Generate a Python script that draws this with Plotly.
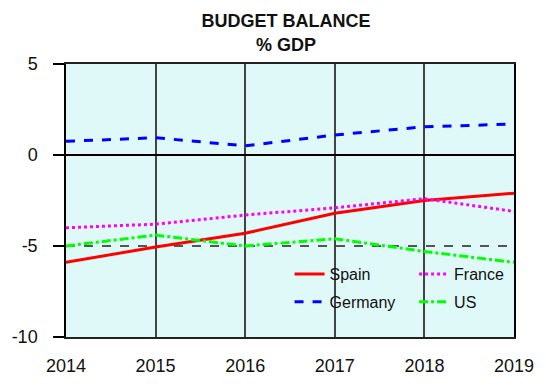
import plotly.graph_objects as go

# Budget balance, % of GDP
years = [2014, 2015, 2016, 2017, 2018, 2019]
spain = [-5.9, -5.05, -4.3, -3.2, -2.5, -2.1]
germany = [0.75, 0.95, 0.5, 1.1, 1.55, 1.7]
france = [-4.0, -3.8, -3.3, -2.9, -2.4, -3.1]
us = [-5.0, -4.4, -5.0, -4.6, -5.3, -5.9]

y_ticks = [-10, -5, 0, 5]
y_tick_labels = ["-10", "-5", "0", "5"]
x_tick_labels = ["2014", "2015", "2016", "2017", "2018", "2019"]

FONT = "Liberation Sans, Arial, sans-serif"

series = [
    ("Spain", spain, "#FF0000", "solid", "legend"),
    ("Germany", germany, "#0000FF", "dash", "legend2"),
    ("France", france, "#FF00FF", "dot", "legend3"),
    ("US", us, "#00FF00", "dashdot", "legend4"),
]

fig = go.Figure()
for name, vals, color, dash, leg in series:
    fig.add_trace(go.Scatter(
        x=years, y=vals, name=name, mode="lines",
        line=dict(color=color, width=3, dash=dash),
        legend=leg, showlegend=True,
    ))

legend_common = dict(
    bgcolor="rgba(0,0,0,0)", borderwidth=0,
    font=dict(family=FONT, size=16, color="#111"),
    xanchor="left", yanchor="middle", itemwidth=30,
)
x_left, x_right = 0.499, 0.777
y_top, y_bot = 0.23, 0.129

fig.update_layout(
    width=546, height=388,
    margin=dict(l=61, r=24, t=64, b=37),
    paper_bgcolor="white",
    plot_bgcolor="#DFF9F9",
    showlegend=True,
    font=dict(family=FONT, color="#111"),
    title=dict(
        text="<b>BUDGET BALANCE<br>% GDP</b>",
        x=0.524, xanchor="center", xref="container",
        y=0.93, yanchor="middle", yref="container",
        font=dict(family=FONT, size=18, color="#111"),
    ),
    legend=dict(x=x_left, y=y_top, **legend_common),
    legend2=dict(x=x_left, y=y_bot, **legend_common),
    legend3=dict(x=x_right, y=y_top, **legend_common),
    legend4=dict(x=x_right, y=y_bot, **legend_common),
    xaxis=dict(
        range=[years[0], years[-1]],
        tickvals=years, ticktext=x_tick_labels,
        tickfont=dict(family=FONT, size=18, color="#111"),
        showgrid=True, gridcolor="#444444", gridwidth=1.5,
        showline=True, mirror=True, linecolor="#222222", linewidth=1.5,
        ticks="", ticklabelstandoff=12,
        zeroline=False,
    ),
    yaxis=dict(
        range=[-10, 5],
        tickvals=y_ticks, ticktext=y_tick_labels,
        tickfont=dict(family=FONT, size=18, color="#111"),
        showgrid=True, gridcolor="#555555", gridwidth=1.5, griddash="dash",
        zeroline=True, zerolinecolor="black", zerolinewidth=1.5,
        showline=True, mirror=True, linecolor="black", linewidth=1.5,
        ticks="outside", ticklen=11, tickcolor="black", tickwidth=1.5,
        ticklabelstandoff=12,
    ),
)

fig.write_html("out.html")
